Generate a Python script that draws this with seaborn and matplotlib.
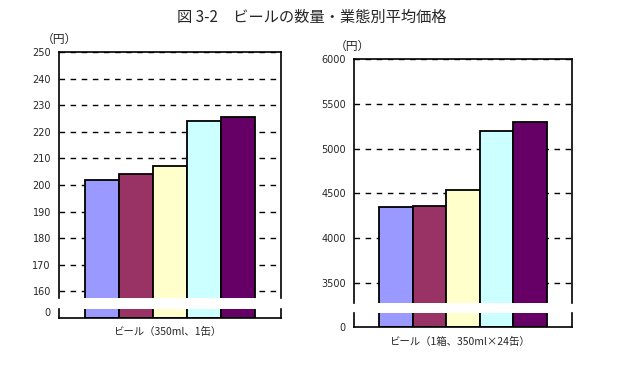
import numpy as np
import pandas as pd
import matplotlib
matplotlib.use("Agg")
import matplotlib.pyplot as plt
import seaborn as sns

# ======== DATA =========
series = ["1", "2", "3", "4", "5"]
can_price = [201.8, 204.1, 207.0, 224.1, 225.6]       # 350ml, 1 can
case_price = [4344, 4355, 4535, 5202, 5303]            # 1 case, 350ml x 24
bar_colors = ["#9999FF", "#993366", "#FFFFCC", "#CCFFFF", "#660066"]

title = "図 3-2　ビールの数量・業態別平均価格"
unit = "（円）"
label_can = "ビール（350ml、1缶）"
label_case = "ビール（1箱、350ml×24缶）"

sns.set_style("white")
plt.rcParams["font.family"] = ["Noto Sans CJK JP", "DejaVu Sans"]

fig = plt.figure(figsize=(6.22, 3.69), dpi=100)
fig.text(0.502, 0.954, title, ha="center", va="center", fontsize=11)


def draw_panel(top_rect, bot_rect, values, ylim_top, ticks_top, ylim_bot, bot_offset, unit_xy, xlabel, xlabel_y):
    df = pd.DataFrame({"s": series, "v": values})
    ax_t = fig.add_axes(top_rect)
    ax_b = fig.add_axes(bot_rect)
    for ax, off in [(ax_t, 0), (ax_b, bot_offset)]:
        sns.barplot(data=df, x="s", y="v", hue="s", palette=bar_colors, width=1,
                    edgecolor="black", linewidth=1.3, legend=False, ax=ax,
                    bottom=off, saturation=1, zorder=3)
        ax.set_xlim(-1.25, 5.25)
        ax.set_xlabel("")
        ax.set_ylabel("")
        ax.set_xticks([])
        ax.tick_params(axis="y", length=0, pad=6, labelsize=7)
        for sp in ax.spines.values():
            sp.set_color("black")
            sp.set_linewidth(1.2)
            sp.set_zorder(4)
    ax_t.set_ylim(*ylim_top)
    ax_t.set_yticks(ticks_top)
    ax_t.set_yticklabels([str(t) for t in ticks_top], family="DejaVu Sans")
    ax_t.yaxis.grid(True, color="black", linestyle=(0, (4, 4)), linewidth=1, zorder=0)
    ax_t.set_axisbelow(True)
    ax_t.spines["bottom"].set_visible(False)
    ax_b.set_ylim(*ylim_bot)
    ax_b.set_yticks([0])
    ax_b.set_yticklabels(["0"], family="DejaVu Sans")
    ax_b.spines["top"].set_visible(False)
    fig.text(unit_xy[0], unit_xy[1], unit, ha="center", va="center", fontsize=8.5)
    fig.text(top_rect[0] + top_rect[2] / 2 - 0.005, xlabel_y, xlabel, ha="center", va="center", fontsize=7.5)


draw_panel([0.0953, 0.1932, 0.3564, 0.6659], [0.0953, 0.1382, 0.3564, 0.0244],
           can_price, (157.6, 250), list(range(160, 251, 10)), (-6, 3), -6,
           (0.095, 0.892), label_can, 0.100)

draw_panel([0.5696, 0.178, 0.3495, 0.6612], [0.5696, 0.1130, 0.3495, 0.0396],
           case_price, (3270, 6000), list(range(3500, 6001, 500)), (0, 1), 0,
           (0.566, 0.875), label_case, 0.073)

fig.savefig("out.png", dpi=100)
